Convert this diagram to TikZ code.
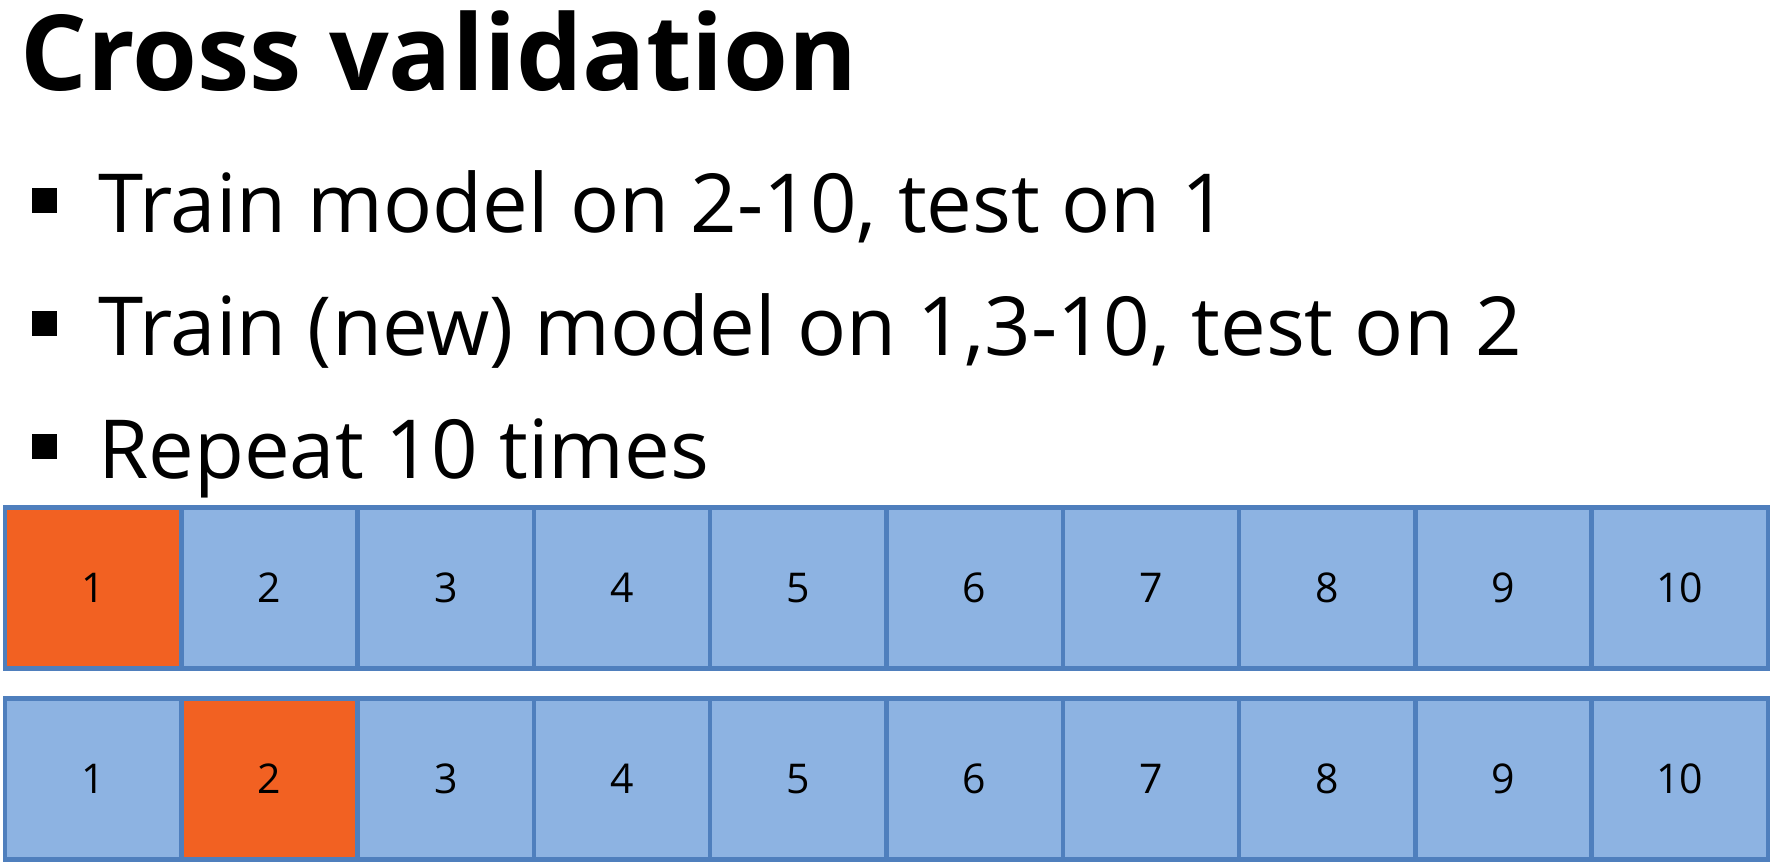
\documentclass[tikz,border=0pt]{standalone}
\usepackage{fontspec}
\setmainfont{Open Sans}
\definecolor{cvborder}{HTML}{4F7FBD}
\definecolor{cvfill}{HTML}{8DB3E2}
\definecolor{cvtest}{HTML}{F26122}
\begin{document}
\begin{tikzpicture}[x=1pt,y=-1pt,
  fold/.style={draw=cvborder,line width=4.5pt,fill=cvfill,minimum width=176.3pt,minimum height=161pt,inner sep=0pt,outer sep=0pt,font=\fontsize{41}{48}\selectfont},
  testfold/.style={fold,fill=cvtest},
  bulletsq/.style={fill=black,minimum size=25pt,inner sep=0pt},
  bullettext/.style={anchor=base west,inner sep=0pt,font=\fontsize{81.5}{96}\selectfont},
  titletext/.style={anchor=base west,inner sep=0pt,font=\fontsize{105}{120}\selectfont\bfseries}]
\useasboundingbox (0,0) rectangle (1774,865);
\fill[white] (0,0) rectangle (1774,865);
\node[titletext] (title) at (20,90) {Cross validation};
\node[bulletsq] (b1) at (44,200.5) {};
\node[bulletsq] (b2) at (44,323.5) {};
\node[bulletsq] (b3) at (44,446.5) {};
\node[bullettext] (t1) at (98,232) {Train model on 2-10, test on 1};
\node[bullettext] (t2) at (98,355) {Train (new) model on 1,3-10, test on 2};
\node[bullettext] (t3) at (98,478) {Repeat 10 times};
\foreach \i in {1,...,10} {
  \pgfmathsetmacro{\cx}{5+176.3*(\i-0.5)}
  \ifnum\i=1
    \node[testfold] (ra\i) at (\cx,588) {\i};
  \else
    \node[fold] (ra\i) at (\cx,588) {\i};
  \fi
  \ifnum\i=2
    \node[testfold] (rb\i) at (\cx,779) {\i};
  \else
    \node[fold] (rb\i) at (\cx,779) {\i};
  \fi
}
\end{tikzpicture}
\end{document}
